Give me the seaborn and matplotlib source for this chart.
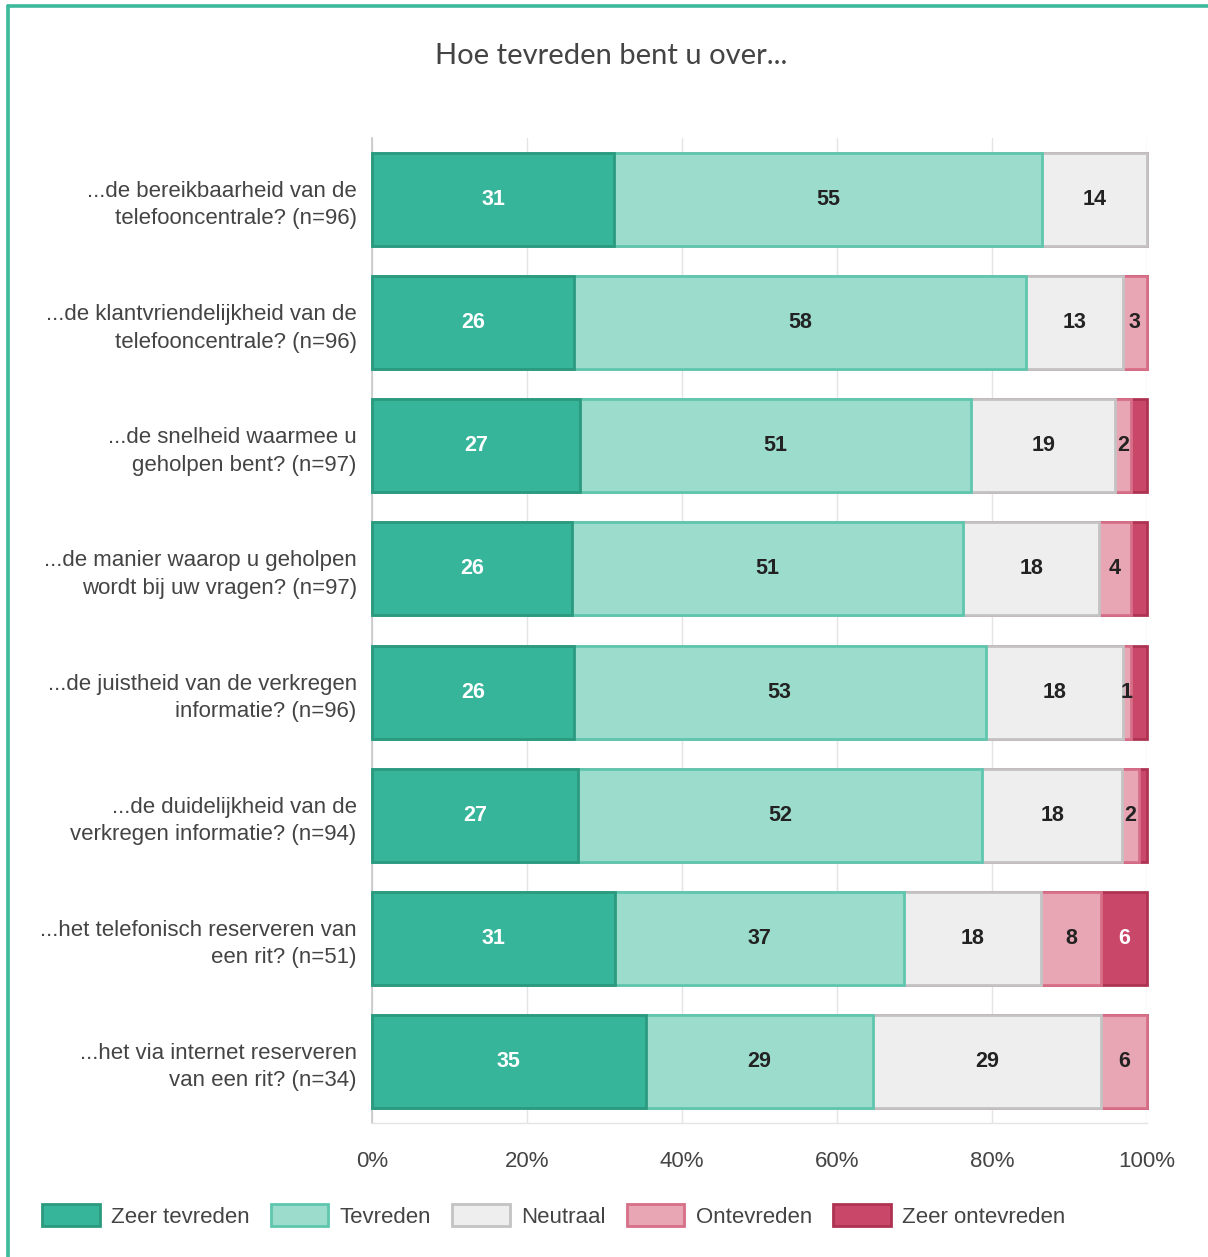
import matplotlib as mpl

mpl.use('Agg')
import pandas as pd
import matplotlib.pyplot as plt
from matplotlib.patches import Patch
from matplotlib.lines import Line2D
import seaborn as sns
import numpy as np

sns.set_style("white")
plt.rcParams['font.family'] = ['Liberation Sans', 'DejaVu Sans']

# survey questions and answer counts per category
questions = ['...de bereikbaarheid van de\ntelefooncentrale? (n=96)',
             '...de klantvriendelijkheid van de\ntelefooncentrale? (n=96)',
             '...de snelheid waarmee u\ngeholpen bent? (n=97)',
             '...de manier waarop u geholpen\nwordt bij uw vragen? (n=97)',
             '...de juistheid van de verkregen\ninformatie? (n=96)',
             '...de duidelijkheid van de\nverkregen informatie? (n=94)',
             '...het telefonisch reserveren van\neen rit? (n=51)',
             '...het via internet reserveren\nvan een rit? (n=34)']
n_resp = [96, 96, 97, 97, 96, 94, 51, 34]

zeer_tevreden = [30, 25, 26, 25, 25, 25, 16, 12]
tevreden = [53, 56, 49, 49, 51, 49, 19, 10]
neutraal = [13, 12, 18, 17, 17, 17, 9, 10]
ontevreden = [0, 3, 2, 4, 1, 2, 4, 2]
zeer_ontevreden = [0, 0, 2, 2, 2, 1, 3, 0]

categories = ['Zeer tevreden', 'Tevreden', 'Neutraal', 'Ontevreden', 'Zeer ontevreden']
fills = ['#37b59a', '#9cdccc', '#eeeeee', '#e8a5b3', '#c9486a']
edges = ['#2b9a7f', '#5fc6ae', '#c3c3c3', '#d76f88', '#ae3352']
text_cols = ['white', '#222222', '#222222', '#222222', 'white']
label_min = [1, 1, 1, 1, 3]  # small last segments get no label

df = pd.DataFrame({'vraag': questions,
                   'Zeer tevreden': zeer_tevreden,
                   'Tevreden': tevreden,
                   'Neutraal': neutraal,
                   'Ontevreden': ontevreden,
                   'Zeer ontevreden': zeer_ontevreden})
pct = df[categories].div(n_resp, axis=0) * 100
cum = pct.cumsum(axis=1)
cum['vraag'] = questions

fig = plt.figure(figsize=(12.08, 12.57), dpi=100)
ax = fig.add_axes([372 / 1208, 1 - 1123 / 1257, 775 / 1208, (1123 - 138) / 1257])

# stacked bars: draw cumulative totals from longest to shortest
for cat, fc, ec in reversed(list(zip(categories, fills, edges))):
    sns.barplot(x=cat, y='vraag', data=cum, orient='h', color=fc, edgecolor=ec,
                linewidth=2, width=0.756, saturation=1, errorbar=None, ax=ax, zorder=3)
for p in ax.patches:
    p.set_clip_on(False)

# value labels
for i in range(len(questions)):
    for j, cat in enumerate(categories):
        v = pct.loc[i, cat]
        if v < label_min[j]:
            continue
        mid = cum.loc[i, cat] - v / 2
        ax.text(mid, i, str(int(np.floor(v + 0.5))), ha='center', va='center',
                fontsize=15.5, fontweight='bold', color=text_cols[j], zorder=5)

ax.set_xlim(0, 100)
ax.set_ylim(7.5, -0.5)
ax.set_xlabel('')
ax.set_ylabel('')
ax.set_xticks([0, 20, 40, 60, 80, 100])
ax.set_xticklabels(['0%', '20%', '40%', '60%', '80%', '100%'])
ax.grid(axis='x', color='#e4e4e4', linewidth=1, zorder=0)
ax.set_axisbelow(True)
ax.tick_params(axis='x', length=12, width=1, color='#e4e4e4', pad=8, labelsize=16, labelcolor='#444444')
ax.tick_params(axis='y', length=0, pad=11, labelsize=16, labelcolor='#444444')
for t in ax.get_yticklabels():
    t.set_linespacing(1.4)

for side in ['top', 'right']:
    ax.spines[side].set_visible(False)
ax.spines['left'].set_color('#c8c8c8')
ax.spines['left'].set_linewidth(1.2)
ax.spines['bottom'].set_color('#e4e4e4')
ax.spines['bottom'].set_linewidth(1)

fig.text(611 / 1208, 1 - 56 / 1257, 'Hoe tevreden bent u over...', ha='center', va='center',
         fontsize=21, color='#444444', family=['Lato', 'DejaVu Sans'])

legend_elements = [Patch(facecolor=fc, edgecolor=ec, linewidth=2, label=cat)
                   for cat, fc, ec in zip(categories, fills, edges)]
fig.legend(handles=legend_elements, loc='center left', bbox_to_anchor=(42 / 1208, 1 - 1216 / 1257),
           ncol=5, frameon=False, fontsize=16, handlelength=2.6, handleheight=1.1,
           handletextpad=0.5, columnspacing=0.95, borderpad=0, borderaxespad=0,
           labelcolor='#444444')

# teal frame (top and left edges)
fig.add_artist(Line2D([8 / 1208, 1], [1 - 5.5 / 1257, 1 - 5.5 / 1257], color='#3db99b', linewidth=2.6))
fig.add_artist(Line2D([8 / 1208, 8 / 1208], [0, 1 - 5.5 / 1257], color='#3db99b', linewidth=2.6))

fig.savefig('out.png', dpi=100)
